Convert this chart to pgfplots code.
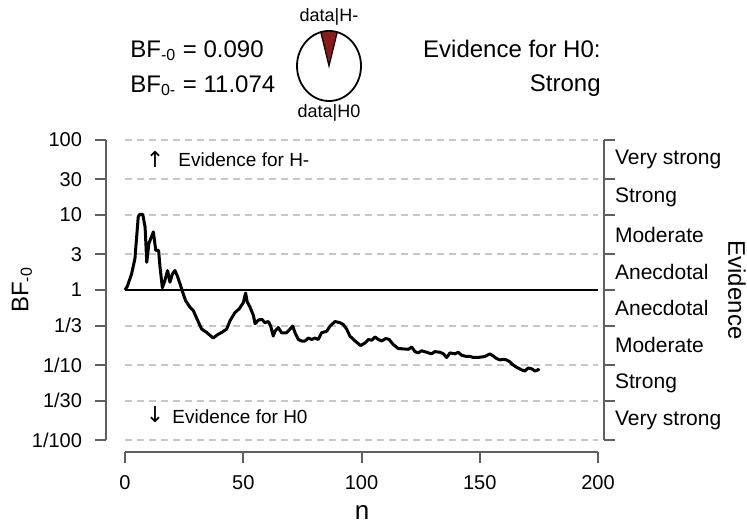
\documentclass[border=0pt]{standalone}
\usepackage{pgfplots}
\pgfplotsset{compat=1.18}
\usepackage{fontspec}
\setmainfont{Liberation Sans}
\newfontfamily\arrowfont{DejaVu Sans}

\definecolor{gridgray}{RGB}{200,200,200}
\definecolor{axisgray}{RGB}{95,95,95}
\definecolor{piered}{RGB}{139,26,26}

\begin{document}
\begin{tikzpicture}
\useasboundingbox (0,0) rectangle (373.5pt,263.5pt);

% main panel
\begin{axis}[
  at={(62.5pt,43.5pt)}, anchor=south west,
  scale only axis, width=236.5pt, height=150pt,
  xmin=0, xmax=200, ymin=0.01, ymax=100, ymode=log,
  enlargelimits=false, yminorticks=false,
  /pgf/number format/assume math mode=true,
  tick align=outside, major tick length=5.5pt,
  axis x line*=bottom, axis y line*=left,
  axis x line shift=6pt, axis y line shift=9.5pt,
  axis line style={axisgray, line width=1pt, -},
  major tick style={axisgray, line width=1pt},
  ticklabel style={font=\fontsize{10}{12}\selectfont},
  xtick={0,50,100,150,200},
  ytick={0.01,0.0333333,0.1,0.333333,1,3,10,30,100},
  yticklabels={1/100,1/30,1/10,1/3,1,3,10,30,100},
  yticklabel style={xshift=-3pt},
  xticklabel style={yshift=-2.5pt},
  ymajorgrids, grid style={gridgray, line width=0.9pt, dash pattern=on 3.5pt off 2.5pt},
  clip=false,
]
\addplot[black, line width=1.2pt] coordinates {(0,1) (200,1)};
\addplot[black, line width=1.5pt, line join=round] coordinates {
(0,1) (1,1.122) (2.8,1.648) (4.2,2.624) (5.6,9.484) (6.3,10.23) (7.5,10.23)
(8.5,6.918) (9.2,2.344) (10.1,4.169) (12,5.970) (13,3.388) (14.2,3.388)
(14.8,2.042) (15.8,1.072) (16.9,1.349) (18,1.820) (19,1.274) (20.1,1.648)
(21.1,1.820) (22.1,1.549) (23.3,1.202) (24.6,0.891) (25.6,0.724) (27.5,0.589)
(28.9,0.531) (30.5,0.407) (32.4,0.302) (34.5,0.272) (37.3,0.229) (39.4,0.257)
(40.9,0.272) (43,0.302) (44.4,0.389) (46.5,0.501) (48.3,0.562) (50,0.676)
(51,0.912) (51.7,0.692) (52.9,0.589) (54.3,0.457) (55,0.355) (56.4,0.398)
(57.8,0.407) (59.2,0.367) (60.6,0.380) (61.6,0.331) (62.7,0.243) (63.4,0.282)
(64.8,0.316) (66.2,0.269) (68.3,0.269) (69.8,0.302) (70.9,0.331) (71.9,0.269)
(73.3,0.219) (74.7,0.209) (76.1,0.209) (77.5,0.229) (78.9,0.219) (80.3,0.229)
(81.7,0.219) (83.1,0.269) (85.3,0.282) (86.7,0.331) (88.8,0.380) (90.9,0.367)
(92.3,0.347) (93.7,0.302) (95.1,0.243) (97.3,0.209) (99.6,0.182) (101.5,0.197)
(102.9,0.219) (104.3,0.214) (105.7,0.237) (107.1,0.219) (108.5,0.209) (110.3,0.226)
(111.7,0.219) (113.4,0.188) (115.5,0.166) (117.6,0.164) (119.8,0.162) (121.2,0.174)
(122.6,0.151) (124,0.145) (125.4,0.155) (127.5,0.148) (129.6,0.141) (131,0.151)
(133.2,0.148) (134.6,0.141) (136,0.126) (137.4,0.145) (139.5,0.141) (140.9,0.148)
(142.3,0.135) (144.4,0.130) (145.9,0.130) (147.3,0.126) (150.1,0.127) (152.2,0.130)
(154.3,0.141) (155.7,0.132) (157.1,0.122) (158.6,0.117) (160,0.119) (161.3,0.117)
(162.8,0.110) (164.1,0.100) (165.6,0.0933) (167.7,0.0861) (169.1,0.0832) (170.5,0.0912)
(171.9,0.0891) (173.4,0.0832) (174.7,0.0861) (175,0.090)
};
\end{axis}

% evidence categories on the right
\begin{axis}[
  at={(62.5pt,43.5pt)}, anchor=south west,
  scale only axis, width=236.5pt, height=150pt,
  xmin=0, xmax=200, ymin=0.01, ymax=100, ymode=log,
  enlargelimits=false, yminorticks=false,
  tick align=outside, major tick length=5.5pt,
  axis x line=none, axis y line*=right, axis y line shift=3pt,
  axis line style={axisgray, line width=1pt, -},
  major tick style={axisgray, line width=1pt},
  ytick={0.01,0.0333333,0.1,0.333333,1,3,10,30,100},
  yticklabels={,,,,,,,,},
  extra y ticks={0.01826,0.05774,0.1826,0.5774,1.732,5.477,17.32,54.77},
  extra y tick labels={Very strong,Strong,Moderate,Anecdotal,Anecdotal,Moderate,Strong,Very strong},
  extra y tick style={major tick length=0pt, yticklabel style={xshift=2pt, font=\fontsize{10.5}{12}\selectfont}},
]
\addplot[draw=none] coordinates {(0,1) (200,1)};
\end{axis}

% axis titles
\node[rotate=90, font=\fontsize{12}{14}\selectfont] at (11pt,118.5pt) {BF\textsubscript{-0}};
\node[font=\fontsize{13}{15}\selectfont] at (181pt,7.5pt) {n};
\node[rotate=-90, font=\fontsize{12}{14}\selectfont] at (368.5pt,118.5pt) {Evidence};

% annotations in the panel
\node[font=\fontsize{11}{13}\selectfont\arrowfont, inner sep=0pt] at (77.5pt,184pt) {↑};
\node[anchor=base west, font=\fontsize{9.5}{11}\selectfont, inner sep=0pt] at (89pt,180.5pt) {Evidence for H-};
\node[font=\fontsize{11}{13}\selectfont\arrowfont, inner sep=0pt] at (77.5pt,56pt) {↓};
\node[anchor=base west, font=\fontsize{9.5}{11}\selectfont, inner sep=0pt] at (86pt,52pt) {Evidence for H0};

% header
\node[anchor=base west, font=\fontsize{12}{14}\selectfont, inner sep=0pt] at (65pt,235pt) {BF\textsubscript{-0} = 0.090};
\node[anchor=base west, font=\fontsize{12}{14}\selectfont, inner sep=0pt] at (65pt,217.5pt) {BF\textsubscript{0-} = 11.074};
\node[anchor=base east, font=\fontsize{12}{14}\selectfont, inner sep=0pt] at (300.5pt,235pt) {Evidence for H0:};
\node[anchor=base east, font=\fontsize{12}{14}\selectfont, inner sep=0pt] at (300.5pt,218pt) {Strong};

% pie
\draw[black, line width=0.9pt] (164.5pt,230.5pt) ellipse [x radius=16pt, y radius=17.5pt];
\filldraw[fill=piered, draw=black, line width=0.6pt] (164.5pt,230.5pt) -- +(75.15:16pt and 17.5pt)
  arc[start angle=75.15, end angle=104.85, x radius=16pt, y radius=17.5pt] -- cycle;
\node[font=\fontsize{9}{11}\selectfont] at (164.5pt,255pt) {data|H-};
\node[font=\fontsize{9}{11}\selectfont] at (164.5pt,207pt) {data|H0};
\end{tikzpicture}
\end{document}
